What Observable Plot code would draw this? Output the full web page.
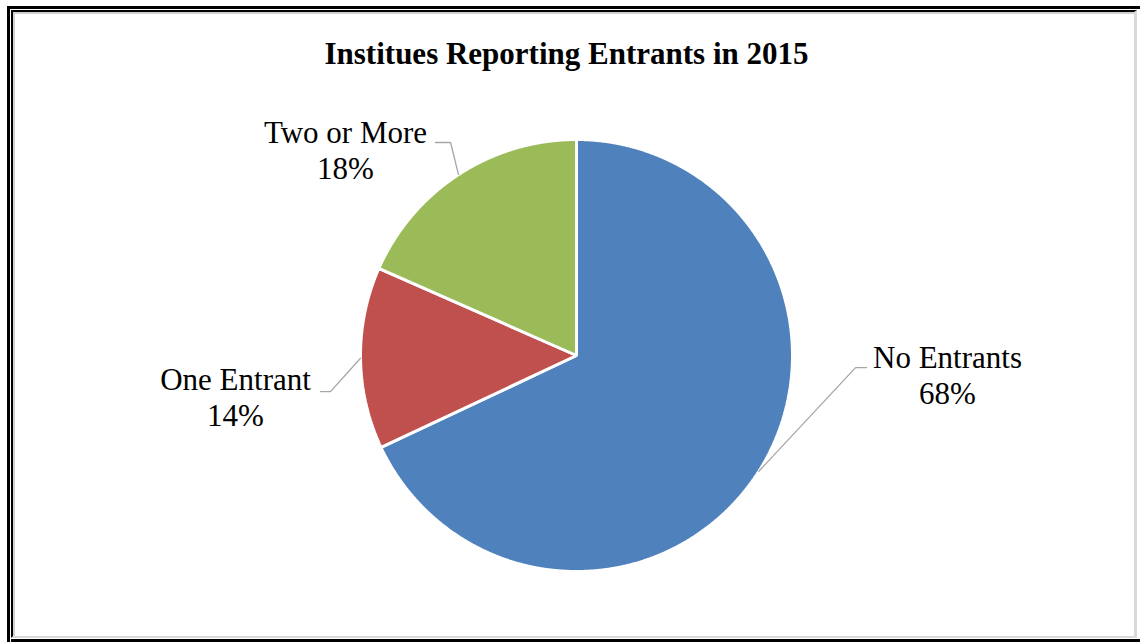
<!DOCTYPE html>
<html>
<head>
<meta charset="utf-8">
<script src="https://cdn.jsdelivr.net/npm/d3@7"></script>
<script src="https://cdn.jsdelivr.net/npm/@observablehq/plot@0.6"></script>
<style>
  html, body { margin: 0; padding: 0; background: #fff; width: 1140px; height: 642px; overflow: hidden; position: relative; }
  .frame-outer { position: absolute; left: 7px; top: 6px; width: 1200px; height: 700px; border-left: 3px solid #000; border-top: 3px solid #000; }
  .frame-inner { position: absolute; left: 11px; top: 10px; width: 1121px; height: 624px; border-left: 2px solid #000; border-top: 2px solid #000; border-right: 3px solid #d9d9d9; border-bottom: 2px solid #d9d9d9; box-shadow: inset 2px 2px 0 #d0d0d0; }
  .frame-bottom { position: absolute; left: 11px; top: 639px; width: 1140px; height: 3px; background: #000; }
  #title { position: absolute; left: 0; top: 36px; width: 1133px; height: 36px; line-height: 36px; text-align: center; font-family: "Liberation Serif", "Times New Roman", serif; font-weight: bold; font-size: 31px; color: #000; }
  #chart { position: absolute; left: 0; top: 80px; }
</style>
</head>
<body>
<div class="frame-outer"></div>
<div class="frame-inner"></div>
<div class="frame-bottom"></div>
<div id="title">Institues Reporting Entrants in 2015</div>
<div id="chart"></div>
<script>
// ---- data ----
const categories = ["No Entrants", "One Entrant", "Two or More"];
const shares = [68, 13.6, 18.4];
const colors = ["#4F81BD", "#C0504D", "#9BBB59"];

// ---- label layout (data units, radius = 1) ----
const labelElbows = [[1.292, -0.056], [-1.139, -0.167], [-0.583, 0.986]];
const leaderEndsX = [1.343, -1.185, -0.653];
const labelCenters = [[1.7176, -0.0556], [-1.5787, -0.162], [-1.0694, 0.9861]];

const W = 1140, H = 562, R = 216, CX = 576, CY = 275;

const arcs = d3.pie().sort(null).startAngle(0).endAngle(2 * Math.PI)(shares);

// slice polygons
const slicePts = [];
arcs.forEach((a, i) => {
  const cat = categories[i];
  slicePts.push({cat, x: 0, y: 0});
  const n = Math.max(2, Math.ceil((a.endAngle - a.startAngle) / 0.004));
  for (let k = 0; k <= n; k++) {
    const t = a.startAngle + (a.endAngle - a.startAngle) * k / n;
    slicePts.push({cat, x: Math.sin(t), y: Math.cos(t)});
  }
});

// leader lines
const leaderPts = [];
arcs.forEach((a, i) => {
  const cat = categories[i];
  const m = (a.startAngle + a.endAngle) / 2;
  leaderPts.push({cat, x: Math.sin(m), y: Math.cos(m)});
  leaderPts.push({cat, x: labelElbows[i][0], y: labelElbows[i][1]});
  leaderPts.push({cat, x: leaderEndsX[i], y: labelElbows[i][1]});
});

const labels = categories.map((c, i) => ({
  name: c,
  pct: `${Math.round(shares[i])}%`,
  x: labelCenters[i][0],
  y: labelCenters[i][1]
}));
const lineGap = 36 / R;

const chart = Plot.plot({
  width: W,
  height: H,
  margin: 0,
  x: {domain: [-CX / R, (W - CX) / R], axis: null},
  y: {domain: [-(H - CY) / R, CY / R], axis: null},
  color: {domain: categories, range: colors},
  style: {background: "transparent", fontFamily: "'Liberation Serif', 'Times New Roman', serif"},
  marks: [
    Plot.line(slicePts, {x: "x", y: "y", z: "cat", fill: "cat", stroke: "white", strokeWidth: 3, curve: "linear-closed", strokeLinejoin: "miter"}),
    Plot.line(leaderPts, {x: "x", y: "y", z: "cat", stroke: "#A6A6A6", strokeWidth: 1.3}),
    Plot.text(labels, {x: "x", y: "y", text: "name", lineAnchor: "bottom", textAnchor: "middle", fontSize: 31, fill: "#000"}),
    Plot.text(labels, {x: "x", y: d => d.y - lineGap, text: "pct", lineAnchor: "bottom", textAnchor: "middle", fontSize: 31, fill: "#000"})
  ]
});
document.getElementById("chart").appendChild(chart);
</script>
</body>
</html>
